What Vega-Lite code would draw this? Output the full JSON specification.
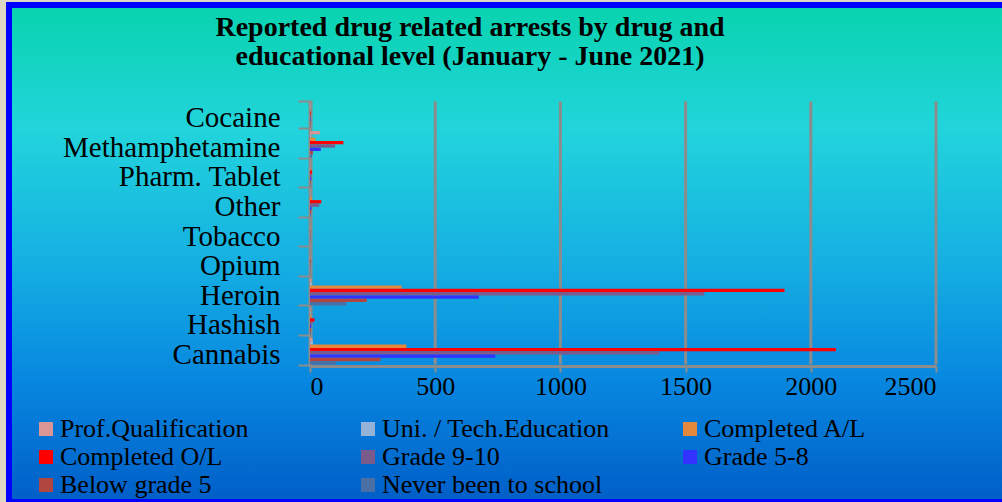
{
  "$schema": "https://vega.github.io/schema/vega-lite/v6.json",
  "width": 1000,
  "height": 497,
  "autosize": "none",
  "padding": {"left": 9, "top": 5, "right": 0, "bottom": 0},
  "background": "#ddd6c2",
  "view": {
    "fill": {"gradient": "linear", "x1": 0, "y1": 0, "x2": 0, "y2": 1, "stops": [
      {"offset": 0, "color": "#08d3ae"},
      {"offset": 0.25, "color": "#22d4dc"},
      {"offset": 0.5, "color": "#16b2e2"},
      {"offset": 0.75, "color": "#0888e0"},
      {"offset": 1, "color": "#005ec8"}
    ]},
    "stroke": "#0000ff",
    "strokeWidth": 6
  },
  "title": {
    "text": ["Reported drug related arrests by drug and", "educational level (January - June 2021)"],
    "font": "Liberation Serif",
    "fontSize": 28,
    "fontWeight": "bold",
    "color": "#000000",
    "anchor": "middle",
    "frame": "group",
    "orient": "top",
    "baseline": "bottom",
    "offset": -108,
    "dx": -39,
    "lineHeight": 29
  },
  "datasets": {
    "arrests": [
      {"drug": "Cocaine", "level": "Prof.Qualification", "arrests": 2},
      {"drug": "Cocaine", "level": "Uni. / Tech.Education", "arrests": 2},
      {"drug": "Cocaine", "level": "Completed A/L", "arrests": 2},
      {"drug": "Cocaine", "level": "Completed O/L", "arrests": 3},
      {"drug": "Cocaine", "level": "Grade 9-10", "arrests": 3},
      {"drug": "Cocaine", "level": "Grade 5-8", "arrests": 2},
      {"drug": "Cocaine", "level": "Below grade 5", "arrests": 2},
      {"drug": "Cocaine", "level": "Never been to school", "arrests": 1},
      {"drug": "Methamphetamine", "level": "Prof.Qualification", "arrests": 40},
      {"drug": "Methamphetamine", "level": "Uni. / Tech.Education", "arrests": 5},
      {"drug": "Methamphetamine", "level": "Completed A/L", "arrests": 22},
      {"drug": "Methamphetamine", "level": "Completed O/L", "arrests": 133},
      {"drug": "Methamphetamine", "level": "Grade 9-10", "arrests": 100},
      {"drug": "Methamphetamine", "level": "Grade 5-8", "arrests": 43},
      {"drug": "Methamphetamine", "level": "Below grade 5", "arrests": 12},
      {"drug": "Methamphetamine", "level": "Never been to school", "arrests": 8},
      {"drug": "Pharm. Tablet", "level": "Prof.Qualification", "arrests": 1},
      {"drug": "Pharm. Tablet", "level": "Uni. / Tech.Education", "arrests": 1},
      {"drug": "Pharm. Tablet", "level": "Completed A/L", "arrests": 3},
      {"drug": "Pharm. Tablet", "level": "Completed O/L", "arrests": 8},
      {"drug": "Pharm. Tablet", "level": "Grade 9-10", "arrests": 6},
      {"drug": "Pharm. Tablet", "level": "Grade 5-8", "arrests": 5},
      {"drug": "Pharm. Tablet", "level": "Below grade 5", "arrests": 3},
      {"drug": "Pharm. Tablet", "level": "Never been to school", "arrests": 2},
      {"drug": "Other", "level": "Prof.Qualification", "arrests": 2},
      {"drug": "Other", "level": "Uni. / Tech.Education", "arrests": 1},
      {"drug": "Other", "level": "Completed A/L", "arrests": 8},
      {"drug": "Other", "level": "Completed O/L", "arrests": 45},
      {"drug": "Other", "level": "Grade 9-10", "arrests": 37},
      {"drug": "Other", "level": "Grade 5-8", "arrests": 6},
      {"drug": "Other", "level": "Below grade 5", "arrests": 5},
      {"drug": "Other", "level": "Never been to school", "arrests": 3},
      {"drug": "Tobacco", "level": "Prof.Qualification", "arrests": 0},
      {"drug": "Tobacco", "level": "Uni. / Tech.Education", "arrests": 0},
      {"drug": "Tobacco", "level": "Completed A/L", "arrests": 1},
      {"drug": "Tobacco", "level": "Completed O/L", "arrests": 1},
      {"drug": "Tobacco", "level": "Grade 9-10", "arrests": 1},
      {"drug": "Tobacco", "level": "Grade 5-8", "arrests": 1},
      {"drug": "Tobacco", "level": "Below grade 5", "arrests": 1},
      {"drug": "Tobacco", "level": "Never been to school", "arrests": 0},
      {"drug": "Opium", "level": "Prof.Qualification", "arrests": 0},
      {"drug": "Opium", "level": "Uni. / Tech.Education", "arrests": 0},
      {"drug": "Opium", "level": "Completed A/L", "arrests": 1},
      {"drug": "Opium", "level": "Completed O/L", "arrests": 2},
      {"drug": "Opium", "level": "Grade 9-10", "arrests": 2},
      {"drug": "Opium", "level": "Grade 5-8", "arrests": 1},
      {"drug": "Opium", "level": "Below grade 5", "arrests": 1},
      {"drug": "Opium", "level": "Never been to school", "arrests": 1},
      {"drug": "Heroin", "level": "Prof.Qualification", "arrests": 5},
      {"drug": "Heroin", "level": "Uni. / Tech.Education", "arrests": 8},
      {"drug": "Heroin", "level": "Completed A/L", "arrests": 366},
      {"drug": "Heroin", "level": "Completed O/L", "arrests": 1895},
      {"drug": "Heroin", "level": "Grade 9-10", "arrests": 1575},
      {"drug": "Heroin", "level": "Grade 5-8", "arrests": 674},
      {"drug": "Heroin", "level": "Below grade 5", "arrests": 227},
      {"drug": "Heroin", "level": "Never been to school", "arrests": 145},
      {"drug": "Hashish", "level": "Prof.Qualification", "arrests": 2},
      {"drug": "Hashish", "level": "Uni. / Tech.Education", "arrests": 2},
      {"drug": "Hashish", "level": "Completed A/L", "arrests": 5},
      {"drug": "Hashish", "level": "Completed O/L", "arrests": 18},
      {"drug": "Hashish", "level": "Grade 9-10", "arrests": 10},
      {"drug": "Hashish", "level": "Grade 5-8", "arrests": 5},
      {"drug": "Hashish", "level": "Below grade 5", "arrests": 4},
      {"drug": "Hashish", "level": "Never been to school", "arrests": 3},
      {"drug": "Cannabis", "level": "Prof.Qualification", "arrests": 10},
      {"drug": "Cannabis", "level": "Uni. / Tech.Education", "arrests": 12},
      {"drug": "Cannabis", "level": "Completed A/L", "arrests": 385},
      {"drug": "Cannabis", "level": "Completed O/L", "arrests": 2100},
      {"drug": "Cannabis", "level": "Grade 9-10", "arrests": 1395},
      {"drug": "Cannabis", "level": "Grade 5-8", "arrests": 740},
      {"drug": "Cannabis", "level": "Below grade 5", "arrests": 281},
      {"drug": "Cannabis", "level": "Never been to school", "arrests": 104}
    ],
    "gridlines": [
      {"value": 500},
      {"value": 1000},
      {"value": 1500},
      {"value": 2000},
      {"value": 2500}
    ]
  },
  "layer": [
    {
      "data": {"name": "gridlines"},
      "mark": {"type": "rule", "color": "#8c8c8c", "strokeWidth": 3},
      "encoding": {
        "x": {"field": "value", "type": "quantitative", "title": null},
        "y": {"datum": "Cocaine", "type": "nominal", "bandPosition": 0, "title": null},
        "y2": {"datum": "Cannabis", "bandPosition": 1}
      }
    },
    {
      "data": {"name": "arrests"},
      "mark": {"type": "bar"},
      "encoding": {
        "y": {
          "field": "drug",
          "type": "nominal",
          "title": null,
          "scale": {
            "domain": ["Cocaine", "Methamphetamine", "Pharm. Tablet", "Other", "Tobacco", "Opium", "Heroin", "Hashish", "Cannabis"],
            "range": [95, 361],
            "paddingInner": 0.1,
            "paddingOuter": 0.05
          },
          "axis": {
            "title": null,
            "offset": -301,
            "domainColor": "#8c8c8c",
            "domainWidth": 4,
            "tickBand": "extent",
            "tickColor": "#8c8c8c",
            "tickWidth": 2,
            "tickSize": 12,
            "labelPadding": 18,
            "labelOffset": 3,
            "labelFont": "Liberation Serif",
            "labelFontSize": 29,
            "labelColor": "#000000",
            "labelLimit": 400,
            "grid": false
          }
        },
        "yOffset": {
          "field": "level",
          "type": "nominal",
          "scale": {
            "domain": ["Prof.Qualification", "Uni. / Tech.Education", "Completed A/L", "Completed O/L", "Grade 9-10", "Grade 5-8", "Below grade 5", "Never been to school"],
            "paddingInner": 0,
            "paddingOuter": 0
          }
        },
        "x": {
          "field": "arrests",
          "type": "quantitative",
          "title": null,
          "scale": {"domain": [0, 2500], "range": [301, 927], "nice": false, "zero": true},
          "axis": {
            "title": null,
            "offset": -136,
            "values": [0, 500, 1000, 1500, 2000, 2500],
            "format": "d",
            "grid": false,
            "domainColor": "#8c8c8c",
            "domainWidth": 3,
            "tickColor": "#8c8c8c",
            "tickWidth": 2,
            "tickSize": 6,
            "labelPadding": 1,
            "labelFont": "Liberation Serif",
            "labelFontSize": 26,
            "labelColor": "#000000"
          }
        },
        "color": {
          "field": "level",
          "type": "nominal",
          "scale": {
            "domain": ["Prof.Qualification", "Uni. / Tech.Education", "Completed A/L", "Completed O/L", "Grade 9-10", "Grade 5-8", "Below grade 5", "Never been to school"],
            "range": ["#d99694", "#95b3d7", "#e3883c", "#ff0000", "#7b5a8c", "#3333ff", "#b0463f", "#4a6fa5"]
          },
          "legend": {
            "title": null,
            "orient": "none",
            "legendX": 24,
            "legendY": 411,
            "direction": "horizontal",
            "columns": 3,
            "gridAlign": "all",
            "columnPadding": 67,
            "rowPadding": 2,
            "padding": 0,
            "symbolType": "square",
            "symbolSize": 196,
            "symbolStrokeWidth": 0,
            "labelOffset": 1,
            "labelFont": "Liberation Serif",
            "labelFontSize": 26,
            "labelColor": "#000000",
            "labelLimit": 400
          }
        }
      }
    }
  ]
}
